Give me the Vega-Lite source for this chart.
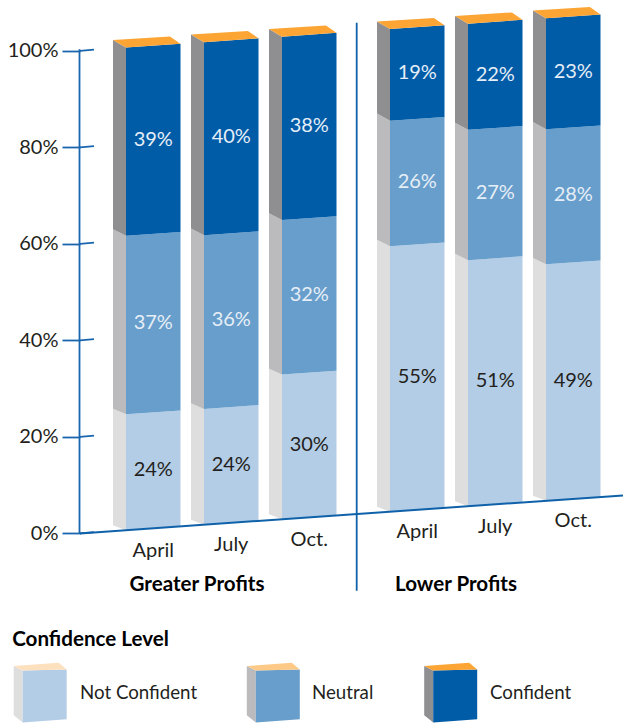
{
"$schema":"https://vega.github.io/schema/vega-lite/v6.json",
"width":623,"height":724,"padding":0,"autosize":"none","background":"white",
"config":{"view":{"stroke":null},"text":{"font":"Lato","fontSize":20,"color":"#231f20"}},
"datasets":{
"segments":[
{"group":"Greater Profits","month":"April","level":"Not Confident","value":24},
{"group":"Greater Profits","month":"April","level":"Neutral","value":37},
{"group":"Greater Profits","month":"April","level":"Confident","value":39},
{"group":"Greater Profits","month":"July","level":"Not Confident","value":24},
{"group":"Greater Profits","month":"July","level":"Neutral","value":36},
{"group":"Greater Profits","month":"July","level":"Confident","value":40},
{"group":"Greater Profits","month":"Oct.","level":"Not Confident","value":30},
{"group":"Greater Profits","month":"Oct.","level":"Neutral","value":32},
{"group":"Greater Profits","month":"Oct.","level":"Confident","value":38},
{"group":"Lower Profits","month":"April","level":"Not Confident","value":55},
{"group":"Lower Profits","month":"April","level":"Neutral","value":26},
{"group":"Lower Profits","month":"April","level":"Confident","value":19},
{"group":"Lower Profits","month":"July","level":"Not Confident","value":51},
{"group":"Lower Profits","month":"July","level":"Neutral","value":27},
{"group":"Lower Profits","month":"July","level":"Confident","value":22},
{"group":"Lower Profits","month":"Oct.","level":"Not Confident","value":49},
{"group":"Lower Profits","month":"Oct.","level":"Neutral","value":28},
{"group":"Lower Profits","month":"Oct.","level":"Confident","value":23}
],
"levels":[{"level":"Not Confident"},{"level":"Neutral"},{"level":"Confident"}],
"ticks":[{"tick":0},{"tick":20},{"tick":40},{"tick":60},{"tick":80},{"tick":100}],
"captions":[{"caption":"Greater Profits"},{"caption":"Lower Profits"},{"caption":"Confidence Level"}]
},
"layer":[
{"data":{"name":"ticks"},
 "transform":[{"calculate":"datum.tick+0.26","as":"tickEnd"},{"calculate":"80","as":"xa"},{"calculate":"94","as":"xb"}],
 "mark":{"type":"rule","color":"#1a66ae","strokeWidth":1.8},
 "encoding":{
  "x":{"field":"xa","type":"quantitative","scale":{"domain":[0,623],"nice":false,"zero":false},"axis":null},
  "x2":{"field":"xb"},
  "y":{"field":"tick","type":"quantitative","title":null,
   "scale":{"domain":[-39.5,110.53],"nice":false,"zero":false},
   "axis":{"values":[0,20,40,60,80,100],"offset":-80,"domain":false,"grid":false,"tickSize":18,"tickWidth":1.8,"tickColor":"#1a66ae","labelPadding":4,"labelExpr":"datum.value+'%'","labelFont":"Lato","labelFontSize":20,"labelColor":"#231f20"}},
  "y2":{"field":"tickEnd"}
 }},
{"data":{"values":[{"axisLine":"value axis"}]},
 "transform":[{"calculate":"79.5","as":"xa"},{"calculate":"0","as":"ya"},{"calculate":"100.3","as":"yb"}],
 "mark":{"type":"rule","color":"#1a66ae","strokeWidth":1.8},
 "encoding":{"x":{"field":"xa","type":"quantitative"},"y":{"field":"ya","type":"quantitative"},"y2":{"field":"yb"}}},
{"data":{"values":[{"axisLine":"group divider"}]},
 "transform":[{"calculate":"356.7","as":"xa"},{"calculate":"-11.9","as":"ya"},{"calculate":"105.8","as":"yb"}],
 "mark":{"type":"rule","color":"#0f62a9","strokeWidth":1.8},
 "encoding":{"x":{"field":"xa","type":"quantitative"},"y":{"field":"ya","type":"quantitative"},"y2":{"field":"yb"}}},
{"data":{"name":"segments"},
 "transform":[
  {"calculate":"indexof(['Not Confident','Neutral','Confident'],datum.level)","as":"rank"},
  {"stack":"value","groupby":["group","month"],"sort":[{"field":"rank","order":"ascending"}],"as":["s","e"]},
  {"calculate":"indexof(['Greater Profits','Lower Profits'],datum.group)*3+indexof(['April','July','Oct.'],datum.month)","as":"bar"},
  {"calculate":"[126,204,282,390,468,546][datum.bar]","as":"x0"},
  {"calculate":"datum.x0+54.5","as":"x1"},
  {"calculate":"(datum.x0-80)*0.0145","as":"k0"},
  {"calculate":"(datum.x1-80)*0.0145","as":"k1"},
  {"calculate":"1.04+0.0056*datum.s","as":"ds"},
  {"calculate":"1.04+0.0056*datum.e","as":"de"},
  {"calculate":"['side','side','side','side','front','front','front','front','top','top','top','top']","as":"face"},
  {"calculate":"[0,1,2,3,0,1,2,3,0,1,2,3]","as":"ord"},
  {"calculate":"[datum.x0-13,datum.x0,datum.x0,datum.x0-13,datum.x0,datum.x1,datum.x1,datum.x0,datum.x0-13,datum.x0,datum.x1,datum.x1-10.6]","as":"vx"},
  {"calculate":"[datum.s+datum.k0+datum.ds,datum.s+datum.k0,datum.e+datum.k0,datum.e+datum.k0+datum.de,datum.s+datum.k0,datum.s+datum.k1,datum.e+datum.k1,datum.e+datum.k0,datum.e+datum.k0+datum.de,datum.e+datum.k0,datum.e+datum.k1,datum.e+datum.k1+1.53]","as":"vy"},
  {"flatten":["face","ord","vx","vy"]},
  {"filter":"datum.face!='top'||datum.level=='Confident'"},
  {"calculate":"datum.level+' '+datum.face","as":"faceKey"}
 ],
 "mark":{"type":"line","strokeWidth":0,"interpolate":"linear"},
 "encoding":{
  "x":{"field":"vx","type":"quantitative"},
  "y":{"field":"vy","type":"quantitative"},
  "order":{"field":"ord","type":"quantitative"},
  "detail":{"field":"bar","type":"nominal"},
  "fill":{"field":"faceKey","type":"nominal","legend":null,
   "scale":{"domain":["Not Confident front","Neutral front","Confident front","Not Confident side","Neutral side","Confident side","Not Confident top","Neutral top","Confident top"],
    "range":["#b3cde6","#689ecb","#015ca8","#dedede","#bbbbbd","#8f8f91","#fde0bd","#fdc986","#fca534"]}}
 }},
{"data":{"name":"levels"},
 "transform":[
  {"calculate":"indexof(['Not Confident','Neutral','Confident'],datum.level)","as":"slot"},
  {"calculate":"[22.7,255.8,433.2][datum.slot]","as":"x0"},
  {"calculate":"datum.x0+44","as":"x1"},
  {"calculate":"['side','side','side','side','front','front','front','front','top','top','top','top']","as":"face"},
  {"calculate":"[0,1,2,3,0,1,2,3,0,1,2,3]","as":"ord"},
  {"calculate":"[datum.x0-9,datum.x0,datum.x0,datum.x0-9,datum.x0,datum.x1,datum.x1,datum.x0,datum.x0-9,datum.x0,datum.x1,datum.x1-8]","as":"vx"},
  {"calculate":"[-37.7,-39.2,-28.4,-27.5,-39.2,-38.5,-28.2,-28.4,-27.5,-28.4,-28.2,-26.8]","as":"vy"},
  {"flatten":["face","ord","vx","vy"]},
  {"calculate":"datum.level+' '+datum.face","as":"faceKey"}
 ],
 "mark":{"type":"line","strokeWidth":0,"interpolate":"linear"},
 "encoding":{
  "x":{"field":"vx","type":"quantitative"},
  "y":{"field":"vy","type":"quantitative"},
  "order":{"field":"ord","type":"quantitative"},
  "fill":{"field":"faceKey","type":"nominal","legend":null}
 }},
{"data":{"values":[{"axisLine":"baseline"}]},
 "transform":[{"calculate":"80","as":"xa"},{"calculate":"623","as":"xb"},{"calculate":"0","as":"ya"},{"calculate":"7.87","as":"yb"}],
 "mark":{"type":"rule","color":"#0f62a9","strokeWidth":2},
 "encoding":{"x":{"field":"xa","type":"quantitative"},"x2":{"field":"xb"},"y":{"field":"ya","type":"quantitative"},"y2":{"field":"yb"}}},
{"data":{"name":"segments"},
 "transform":[
  {"calculate":"indexof(['Not Confident','Neutral','Confident'],datum.level)","as":"rank"},
  {"stack":"value","groupby":["group","month"],"sort":[{"field":"rank","order":"ascending"}],"as":["s","e"]},
  {"calculate":"indexof(['Greater Profits','Lower Profits'],datum.group)*3+indexof(['April','July','Oct.'],datum.month)","as":"bar"},
  {"calculate":"[126,204,282,390,468,546][datum.bar]+27.25","as":"xc"},
  {"calculate":"(datum.s+datum.e)/2+(datum.xc-80)*0.0145","as":"yc"},
  {"calculate":"datum.value+'%'","as":"pct"}
 ],
 "mark":{"type":"text","baseline":"middle","align":"center"},
 "encoding":{
  "x":{"field":"xc","type":"quantitative"},
  "y":{"field":"yc","type":"quantitative"},
  "text":{"field":"pct"},
  "color":{"condition":{"test":"datum.level=='Not Confident'","value":"#231f20"},"value":"#e6eef7"}
 }},
{"data":{"name":"segments"},
 "transform":[
  {"filter":"datum.level=='Confident'"},
  {"calculate":"indexof(['Greater Profits','Lower Profits'],datum.group)*3+indexof(['April','July','Oct.'],datum.month)","as":"bar"},
  {"calculate":"[126,204,282,390,468,546][datum.bar]+27.25","as":"xc"},
  {"calculate":"(datum.xc-80)*0.0145-4.66","as":"yc"}
 ],
 "mark":{"type":"text","baseline":"middle","align":"center"},
 "encoding":{
  "x":{"field":"xc","type":"quantitative"},
  "y":{"field":"yc","type":"quantitative"},
  "text":{"field":"month"}
 }},
{"data":{"name":"levels"},
 "transform":[
  {"calculate":"[80,312,490][indexof(['Not Confident','Neutral','Confident'],datum.level)]","as":"xa"},
  {"calculate":"-33.1","as":"ya"}
 ],
 "mark":{"type":"text","baseline":"middle","align":"left","fontSize":18.7},
 "encoding":{
  "x":{"field":"xa","type":"quantitative"},
  "y":{"field":"ya","type":"quantitative"},
  "text":{"field":"level"}
 }},
{"data":{"name":"captions"},
 "transform":[
  {"calculate":"indexof(['Greater Profits','Lower Profits','Confidence Level'],datum.caption)","as":"slot"},
  {"calculate":"[197,456,90.5][datum.slot]","as":"xa"},
  {"calculate":"[-10.7,-10.7,-22.1][datum.slot]","as":"ya"}
 ],
 "mark":{"type":"text","baseline":"middle","align":"center","fontWeight":"bold","color":"#000000","fontSize":20.6},
 "encoding":{
  "x":{"field":"xa","type":"quantitative"},
  "y":{"field":"ya","type":"quantitative"},
  "text":{"field":"caption"}
 }}
]
}
